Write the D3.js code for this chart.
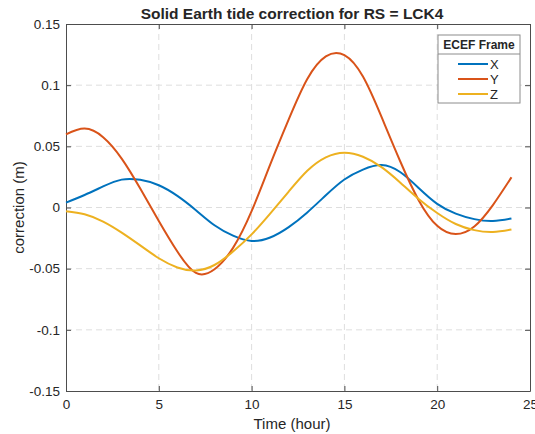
<!DOCTYPE html>
<html>
<head>
<meta charset="utf-8">
<script src="https://d3js.org/d3.v7.min.js"></script>
<style>
  body { margin: 0; background: #fff; }
  text { font-family: "Liberation Sans", Arial, sans-serif; fill: #262626; }
</style>
</head>
<body>
<svg id="chart" width="535" height="434"></svg>
<script>
// hourly samples
var hours = [0,1,2,3,4,5,6,7,8,9,10,11,12,13,14,15,16,17,18,19,20,21,22,23,24];
var xVals = [0.004,0.0102,0.0172,0.0228,0.0226,0.0182,0.0095,-0.0022,-0.0145,-0.023,-0.0273,-0.0245,-0.016,-0.004,0.010,0.0229,0.031,0.0347,0.029,0.016,0.003,-0.005,-0.0095,-0.011,-0.009];
var yVals = [0.0598,0.0645,0.0575,0.040,0.0155,-0.011,-0.036,-0.0535,-0.0505,-0.033,-0.003,0.035,0.072,0.105,0.1235,0.1245,0.107,0.074,0.038,0.006,-0.015,-0.0217,-0.0155,0.002,0.0247];
var zVals = [-0.003,-0.0055,-0.0115,-0.0205,-0.031,-0.0415,-0.049,-0.0515,-0.047,-0.036,-0.022,-0.005,0.013,0.030,0.041,0.0448,0.0415,0.033,0.0205,0.007,-0.0045,-0.0135,-0.0185,-0.020,-0.018];
var seriesNames = ["X","Y","Z"];
var seriesColors = ["#0072BD","#D95319","#EDB120"];
var xTicks = [0,5,10,15,20,25];
var yTicks = [-0.15,-0.1,-0.05,0,0.05,0.1,0.15];

var pLeft = 66, pRight = 530, pTop = 24, pBottom = 391;
var svg = d3.select("#chart");

var xScale = d3.scaleLinear().domain([0,25]).range([pLeft,pRight]);
var yScale = d3.scaleLinear().domain([-0.15,0.15]).range([pBottom,pTop]);

// grid
var grid = svg.append("g");
grid.selectAll(".gx").data(xTicks.slice(1,-1)).enter().append("line")
    .attr("x1", function(d){ return xScale(d); }).attr("x2", function(d){ return xScale(d); })
    .attr("y1", pTop).attr("y2", pBottom)
    .style("stroke","#dedede").style("stroke-width",1).style("stroke-dasharray","6,4");
grid.selectAll(".gy").data(yTicks.slice(1,-1)).enter().append("line")
    .attr("y1", function(d){ return yScale(d); }).attr("y2", function(d){ return yScale(d); })
    .attr("x1", pLeft).attr("x2", pRight)
    .style("stroke","#dedede").style("stroke-width",1).style("stroke-dasharray","6,4");

// axes
var xAxis = d3.axisBottom(xScale).tickValues(xTicks).tickSizeInner(-5).tickSizeOuter(0).tickPadding(8);
var yAxis = d3.axisLeft(yScale).tickValues(yTicks).tickSizeInner(-5).tickSizeOuter(0).tickPadding(6)
    .tickFormat(function(d){ return String(+d.toFixed(2)); });

var gx = svg.append("g").attr("transform","translate(0," + pBottom + ")").call(xAxis);
var gy = svg.append("g").attr("transform","translate(" + pLeft + ",0)").call(yAxis);
var gx2 = svg.append("g").attr("transform","translate(0," + pTop + ")")
    .call(d3.axisTop(xScale).tickValues(xTicks).tickSizeInner(-5).tickSizeOuter(0).tickFormat(""));
var gy2 = svg.append("g").attr("transform","translate(" + pRight + ",0)")
    .call(d3.axisRight(yScale).tickValues(yTicks).tickSizeInner(-5).tickSizeOuter(0).tickFormat(""));

[gx,gy,gx2,gy2].forEach(function(g){
    g.select(".domain").style("stroke","#4d4d4d").style("stroke-width",1);
    g.selectAll(".tick line").style("stroke","#4d4d4d");
    g.selectAll(".tick text").style("font-size","13.5px").style("fill","#262626")
        .style("font-family","Liberation Sans, Arial, sans-serif");
});

// lines
var allSeries = [xVals, yVals, zVals];
var line = d3.line()
    .x(function(d,i){ return xScale(hours[i]); })
    .y(function(d){ return yScale(d); })
    .curve(d3.curveNatural);

svg.append("g").selectAll("path").data(allSeries).enter().append("path")
    .attr("d", line)
    .style("fill","none")
    .style("stroke", function(d,i){ return seriesColors[i]; })
    .style("stroke-width", 2);

// labels
svg.append("text").attr("x", 292).attr("y", 19)
    .attr("text-anchor","middle").style("font-size","15.5px").style("font-weight","bold")
    .text("Solid Earth tide correction for RS = LCK4");
svg.append("text").attr("x", 292).attr("y", 429)
    .attr("text-anchor","middle").style("font-size","15px")
    .text("Time (hour)");
svg.append("text").attr("transform","translate(24," + ((pTop+pBottom)/2) + ") rotate(-90)")
    .attr("text-anchor","middle").style("font-size","15px")
    .text("correction (m)");

// legend
var lx = 438, ly = 35, lw = 82, lh = 68;
var legend = svg.append("g");
legend.append("rect").attr("x",lx).attr("y",ly).attr("width",lw).attr("height",lh)
    .style("fill","#fff").style("stroke","#8c8c8c").style("stroke-width",1);
legend.append("line").attr("x1",lx).attr("x2",lx+lw).attr("y1",ly+19).attr("y2",ly+19)
    .style("stroke","#8c8c8c").style("stroke-width",1);
legend.append("text").attr("x", lx+lw/2).attr("y", ly+14).attr("text-anchor","middle")
    .style("font-size","12px").style("font-weight","bold").text("ECEF Frame");
seriesNames.forEach(function(name,i){
    var yy = ly + 29 + i*15;
    legend.append("line").attr("x1",lx+20).attr("x2",lx+50).attr("y1",yy).attr("y2",yy)
        .style("stroke",seriesColors[i]).style("stroke-width",2);
    legend.append("text").attr("x",lx+52).attr("y",yy+5).style("font-size","13px").text(name);
});
</script>
</body>
</html>
